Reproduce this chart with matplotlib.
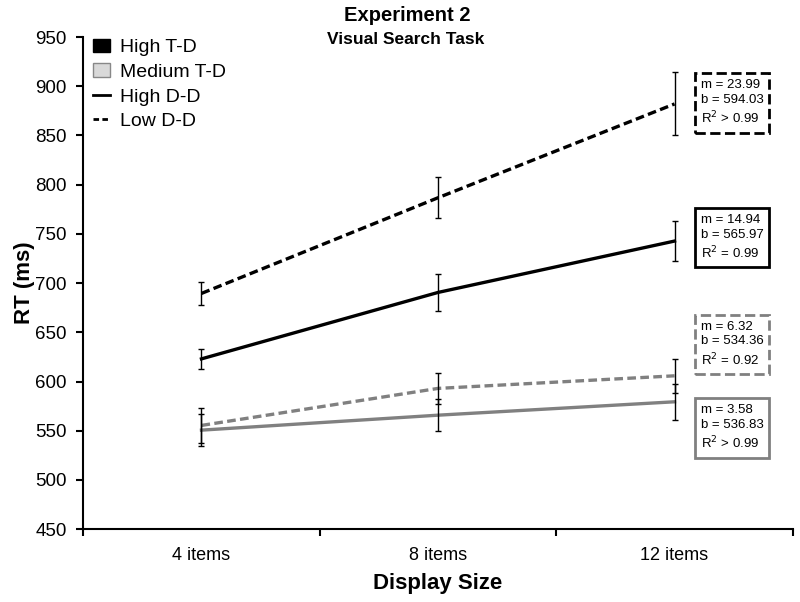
import matplotlib
matplotlib.use("Agg")
import matplotlib.pyplot as plt
from matplotlib.patches import Patch
from matplotlib.lines import Line2D

plt.rcParams['font.family'] = ['Liberation Sans', 'DejaVu Sans']

# data
categories = ['4 items', '8 items', '12 items']
high_td_low_dd = [689.5, 786.7, 882.0]
high_td_low_dd_err = [11.5, 21.0, 32.0]
high_td_high_dd = [623.0, 690.5, 742.7]
high_td_high_dd_err = [10.0, 18.5, 20.5]
med_td_low_dd = [555.4, 593.0, 605.8]
med_td_low_dd_err = [18.0, 16.0, 17.5]
med_td_high_dd = [550.6, 565.8, 579.4]
med_td_high_dd_err = [16.0, 16.0, 18.0]

fit_labels = [
    "m = 23.99\nb = 594.03\nR$^2$ > 0.99",
    "m = 14.94\nb = 565.97\nR$^2$ = 0.99",
    "m = 6.32\nb = 534.36\nR$^2$ = 0.92",
    "m = 3.58\nb = 536.83\nR$^2$ > 0.99",
]

fig = plt.figure(figsize=(8, 6.02), dpi=100)
ax = fig.add_axes([0.104, 0.121, 0.887, 0.8175])

x = list(range(len(categories)))
gray = '#808080'
dash = (2.6, 1.3)

series = [
    (high_td_low_dd, high_td_low_dd_err, 'black', True),
    (high_td_high_dd, high_td_high_dd_err, 'black', False),
    (med_td_low_dd, med_td_low_dd_err, gray, True),
    (med_td_high_dd, med_td_high_dd_err, gray, False),
]
for vals, err, col, dashed in series:
    ln, = ax.plot(x, vals, color=col, lw=2.4, zorder=2)
    if dashed:
        ln.set_dashes(dash)
    ax.errorbar(x, vals, yerr=err, fmt='none', ecolor='black',
                elinewidth=1.0, capsize=2.5, capthick=1.0, zorder=3)

ax.set_ylim(450, 950)
ax.set_yticks(range(450, 951, 50))
ax.set_xlim(-0.5, 2.5)
ax.set_xticks([-0.5, 0.5, 1.5, 2.5])
ax.set_xticklabels([])
ax.set_xticks(x, minor=True)
ax.set_xticklabels(categories, minor=True)
ax.tick_params(axis='x', which='minor', length=0, pad=13, labelsize=13)
ax.tick_params(axis='x', which='major', length=5, width=1.5, direction='out')
ax.tick_params(axis='y', length=5, width=1.5, direction='out', labelsize=13.5, pad=7)

for s in ['top', 'right']:
    ax.spines[s].set_visible(False)
for s in ['left', 'bottom']:
    ax.spines[s].set_linewidth(1.5)

ax.set_ylabel('RT (ms)', fontsize=16, fontweight='bold', labelpad=0)
ax.set_xlabel('Display Size', fontsize=16, fontweight='bold', labelpad=6)

fig.text(0.509, 0.975, 'Experiment 2', ha='center', va='center',
         fontsize=14.5, fontweight='bold')
fig.text(0.507, 0.935, 'Visual Search Task', ha='center', va='center',
         fontsize=12.5, fontweight='bold')

handles = [
    Patch(facecolor='black', edgecolor='black'),
    Patch(facecolor='#d9d9d9', edgecolor='#888888'),
    Line2D([], [], color='black', lw=2),
    Line2D([], [], color='black', lw=2, dashes=(2, 1.2)),
]
ax.legend(handles, ['High T-D', 'Medium T-D', 'High D-D', 'Low D-D'],
          loc='upper left', bbox_to_anchor=(-0.002, 1.02), frameon=False,
          fontsize=14, handlelength=0.85, handletextpad=0.5,
          labelspacing=0.36, borderaxespad=0.2)

box_y = [0.829, 0.605, 0.428, 0.289]
box_style = [('black', '--'), ('black', '-'), (gray, '--'), (gray, '-')]
for lab, yy, (ec, ls) in zip(fit_labels, box_y, box_style):
    fig.text(0.915, yy, lab, ha='center', va='center', fontsize=9.5,
             multialignment='left', linespacing=1.3,
             bbox=dict(boxstyle='square,pad=0.45', facecolor='white',
                       edgecolor=ec, linewidth=2, linestyle=ls))

fig.savefig('out.png', dpi=100)
